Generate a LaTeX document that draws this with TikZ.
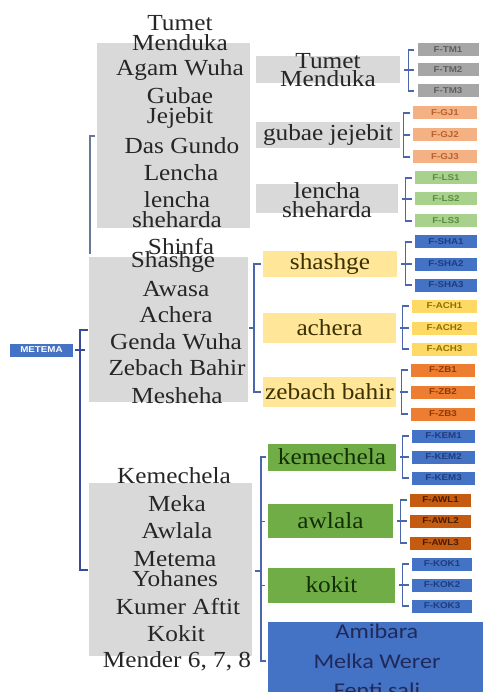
\documentclass[tikz,border=0pt]{standalone}
\usepackage{fontspec}
\setmainfont{Liberation Serif}[FakeStretch=1.1]
\newfontfamily\lblfont{Liberation Sans}[FakeStretch=1.15]
\newfontfamily\bluefont{Carlito}[FakeStretch=1.15]
\definecolor{boxgray}{HTML}{D9D9D9}
\definecolor{brc}{HTML}{4A66AC}
\definecolor{mainbr}{HTML}{3A4A9A}
\definecolor{upbr}{HTML}{6A7898}
\definecolor{tmc}{HTML}{A6A6A6}\definecolor{tmt}{HTML}{5F5F5F}
\definecolor{gjc}{HTML}{F4B183}\definecolor{gjt}{HTML}{B8612F}
\definecolor{lsc}{HTML}{A9D18E}\definecolor{lst}{HTML}{5B8C3B}
\definecolor{bluec}{HTML}{4472C4}\definecolor{bluet}{HTML}{1F3C7E}
\definecolor{achc}{HTML}{FFD966}\definecolor{acht}{HTML}{8F6F00}
\definecolor{zbc}{HTML}{ED7D31}\definecolor{zbt}{HTML}{8B3B0B}
\definecolor{awlc}{HTML}{C55A11}\definecolor{awlt}{HTML}{4A1C00}
\definecolor{yelc}{HTML}{FFE699}\definecolor{yelt}{HTML}{3A3000}
\definecolor{grc}{HTML}{70AD47}\definecolor{grt}{HTML}{112E05}
\definecolor{navy}{HTML}{1F2A5A}
\definecolor{txtdark}{HTML}{262626}
\tikzset{
  plainbox/.style={inner sep=0pt, outer sep=0pt},
  bigtxt/.style={inner sep=0pt, align=center, text=txtdark, font=\fontsize{23}{20}\selectfont},
  midtxt/.style={inner sep=0pt, align=center, font=\fontsize{23}{18.5}\selectfont},
  sbox/.style={minimum width=61pt, minimum height=13pt, inner sep=0pt, font=\lblfont\bfseries\fontsize{8.5}{9}\selectfont},
  br/.style={draw=brc, line width=1.1pt},
}
\begin{document}
\begin{tikzpicture}[x=1pt,y=-1pt]
\useasboundingbox (0,0) rectangle (482,692);
% big gray boxes
\node[plainbox, fill=boxgray, minimum width=153pt, minimum height=185pt] (g1) at (173.5,135.5) {};
\node[plainbox, fill=boxgray, minimum width=159pt, minimum height=145pt] (g2) at (168.5,329.5) {};
\node[plainbox, fill=boxgray, minimum width=163pt, minimum height=173pt] (g3) at (170.5,569.5) {};
% group 1 texts
\node[bigtxt] (t1) at (180,33) {Tumet\\Menduka};
\node[bigtxt] (t2) at (180,70) {Agam Wuha};
\node[bigtxt] (t3) at (180,108) {Gubae\\Jejebit};
\node[bigtxt] (t4) at (182,146) {Das Gundo};
\node[bigtxt] (t5) at (181,173) {Lencha};
\node[bigtxt] (t6) at (177,210) {lencha\\sheharda};
\node[bigtxt] (t7) at (181,247) {Shinfa};
% group 2 texts
\node[bigtxt] (u1) at (173,262) {Shashge};
\node[bigtxt] (u2) at (176,289) {Awasa};
\node[bigtxt] (u3) at (176,315) {Achera};
\node[bigtxt] (u4) at (176,342) {Genda Wuha};
\node[bigtxt] (u5) at (177,368) {Zebach Bahir};
\node[bigtxt] (u6) at (177,396) {Mesheha};
% group 3 texts
\node[bigtxt] (v1) at (174,476) {Kemechela};
\node[bigtxt] (v2) at (177,504) {Meka};
\node[bigtxt] (v3) at (177,531) {Awlala};
\node[bigtxt] (v4) at (175,569) {Metema\\Yohanes};
\node[bigtxt] (v5) at (178,607) {Kumer Aftit};
\node[bigtxt] (v6) at (176,634) {Kokit};
\node[bigtxt] (v7) at (177,661) {Mender 6, 7, 8};
% METEMA
\node[plainbox, fill=bluec, text=white, minimum width=63pt, minimum height=13pt, font=\lblfont\bfseries\fontsize{8.5}{9}\selectfont] (met) at (41.5,350) {METEMA};
% left brackets
\coordinate (ub1) at (95,136);
\coordinate (ub2) at (90,254);
\draw[draw=upbr, line width=1.1pt] (ub1) -| (ub2);
\coordinate (mt) at (88,330);
\coordinate (mb) at (88,570);
\coordinate (metx) at (85,350);
\draw[draw=mainbr, line width=1.1pt] (mt) -- ++(-8,0) |- (mb);
\draw[draw=mainbr, line width=1.1pt] ([xshift=2pt]met.east) -- (metx);
% middle gray boxes
\node[plainbox, fill=boxgray, minimum width=144pt, minimum height=27pt] (mTM) at (328,70) {};
\node[midtxt, text=txtdark] at (mTM) {Tumet\\Menduka};
\node[plainbox, fill=boxgray, minimum width=144pt, minimum height=26pt] (mGJ) at (328,135) {};
\node[midtxt, text=txtdark] at (mGJ) {gubae jejebit};
\node[plainbox, fill=boxgray, minimum width=142pt, minimum height=29pt] (mLS) at (327,199) {};
\node[midtxt, text=txtdark] at ([yshift=-1pt]mLS) {lencha\\sheharda};
% yellow boxes
\node[plainbox, fill=yelc, minimum width=134pt, minimum height=25pt, midtxt, text=yelt] (ya) at (330,264) {shashge};
\node[plainbox, fill=yelc, minimum width=133pt, minimum height=30pt, midtxt, text=yelt] (yb) at (329.5,328) {achera};
\node[plainbox, fill=yelc, minimum width=133pt, minimum height=30pt, midtxt, text=yelt] (yc) at (329.5,392) {zebach bahir};
% green boxes
\node[plainbox, fill=grc, minimum width=128pt, minimum height=27pt, midtxt, text=grt] (ga) at (332,457) {kemechela};
\node[plainbox, fill=grc, minimum width=125pt, minimum height=34pt, midtxt, text=grt] (gb) at (330.5,521) {awlala};
\node[plainbox, fill=grc, minimum width=127pt, minimum height=35pt, midtxt, text=grt] (gc) at (331.5,585) {kokit};
% blue box
\node[plainbox, fill=bluec, minimum width=222pt, minimum height=78pt] (bl) at (379,661) {};
\node[inner sep=0pt, align=center, text=navy, font=\bluefont\fontsize{21}{29.5}\selectfont] (blt) at (377,661) {Amibara\\Melka Werer\\Fenti sali};
% middle brackets
\coordinate (ytick) at (254,328);
\draw[br] ([xshift=-2pt]ya.west) -- ++(-7,0) |- ([xshift=-2pt]yc.west);
\draw[br] (ytick) -- ++(-5,0);
\coordinate (gtick) at (261,571);
\coordinate (gtb) at (261,521);
\coordinate (gtc) at (261,585);
\draw[br] ([xshift=-2pt]ga.west) -- ++(-5,0) |- ([xshift=-2pt]bl.west);
\draw[br] (gtick) -- ++(-6,0);
\draw[br, line width=0.8pt] (gtb) -- ++(4,0);
\draw[br, line width=0.8pt] (gtc) -- ++(4,0);
% small boxes
\node[sbox, fill=tmc, text=tmt] (tm1) at (448,50) {F-TM1};
\node[sbox, fill=tmc, text=tmt] (tm2) at (448,70) {F-TM2};
\node[sbox, fill=tmc, text=tmt] (tm3) at (448,91) {F-TM3};
\node[sbox, fill=gjc, text=gjt, minimum width=64pt] (gj1) at (445,113) {F-GJ1};
\node[sbox, fill=gjc, text=gjt, minimum width=64pt] (gj2) at (445,135) {F-GJ2};
\node[sbox, fill=gjc, text=gjt, minimum width=64pt] (gj3) at (445,157) {F-GJ3};
\node[sbox, fill=lsc, text=lst, minimum width=62pt] (ls1) at (446,178) {F-LS1};
\node[sbox, fill=lsc, text=lst, minimum width=62pt] (ls2) at (446,199) {F-LS2};
\node[sbox, fill=lsc, text=lst, minimum width=62pt] (ls3) at (446,221) {F-LS3};
\node[sbox, fill=bluec, text=bluet, minimum width=62pt] (sh1) at (446,242) {F-SHA1};
\node[sbox, fill=bluec, text=bluet, minimum width=62pt] (sh2) at (446,264) {F-SHA2};
\node[sbox, fill=bluec, text=bluet, minimum width=62pt] (sh3) at (446,285) {F-SHA3};
\node[sbox, fill=achc, text=acht, minimum width=65pt] (ac1) at (444.5,306) {F-ACH1};
\node[sbox, fill=achc, text=acht, minimum width=65pt] (ac2) at (444.5,328) {F-ACH2};
\node[sbox, fill=achc, text=acht, minimum width=65pt] (ac3) at (444.5,349) {F-ACH3};
\node[sbox, fill=zbc, text=zbt, minimum width=64pt] (zb1) at (443,370) {F-ZB1};
\node[sbox, fill=zbc, text=zbt, minimum width=64pt] (zb2) at (443,392) {F-ZB2};
\node[sbox, fill=zbc, text=zbt, minimum width=64pt] (zb3) at (443,414) {F-ZB3};
\node[sbox, fill=bluec, text=bluet, minimum width=63pt] (ke1) at (443.5,436) {F-KEM1};
\node[sbox, fill=bluec, text=bluet, minimum width=63pt] (ke2) at (443.5,457) {F-KEM2};
\node[sbox, fill=bluec, text=bluet, minimum width=63pt] (ke3) at (443.5,478) {F-KEM3};
\node[sbox, fill=awlc, text=awlt] (aw1) at (440.5,500) {F-AWL1};
\node[sbox, fill=awlc, text=awlt] (aw2) at (440.5,521) {F-AWL2};
\node[sbox, fill=awlc, text=awlt] (aw3) at (440.5,543) {F-AWL3};
\node[sbox, fill=bluec, text=bluet, minimum width=60pt] (ko1) at (442,564) {F-KOK1};
\node[sbox, fill=bluec, text=bluet, minimum width=60pt] (ko2) at (442,585) {F-KOK2};
\node[sbox, fill=bluec, text=bluet, minimum width=60pt] (ko3) at (442,606) {F-KOK3};
% right brackets
\foreach \p/\a/\b/\c in {mTM/tm1/tm2/tm3, mGJ/gj1/gj2/gj3, mLS/ls1/ls2/ls3, ya/sh1/sh2/sh3, yb/ac1/ac2/ac3, yc/zb1/zb2/zb3, ga/ke1/ke2/ke3, gb/aw1/aw2/aw3, gc/ko1/ko2/ko3}{
  \draw[br] ([xshift=-3pt]\a.west) -- ++(-6,0) |- ([xshift=-3pt]\c.west);
  \draw[br] ([xshift=4pt]\p.east) -- ([xshift=-3pt]\b.west);
}
\end{tikzpicture}
\end{document}
